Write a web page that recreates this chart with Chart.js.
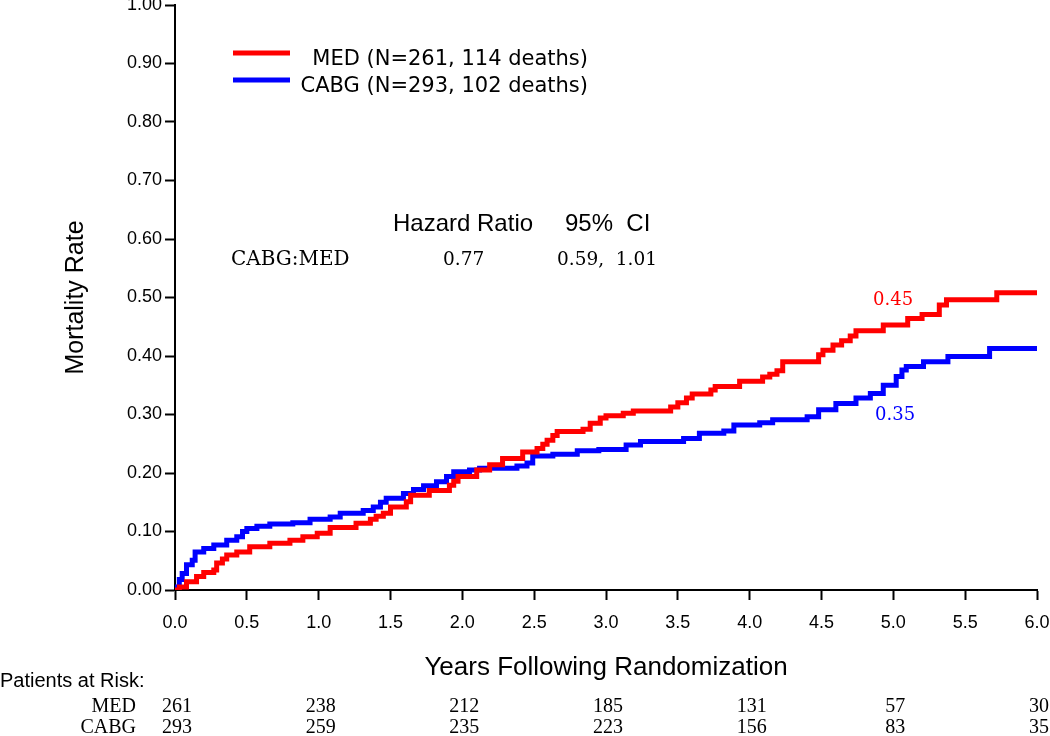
<!DOCTYPE html>
<html>
<head>
<meta charset="utf-8">
<script src="https://cdn.jsdelivr.net/npm/chart.js@4/dist/chart.umd.min.js"></script>
<style>
  body { margin: 0; background: #fff; }
  #wrap { width: 1050px; height: 736px; position: relative; }
</style>
</head>
<body>
<div id="wrap"><canvas id="kmChart"></canvas></div>
<script>
// Kaplan-Meier style mortality (years, cumulative rate)
var medYears = [0, 0.03, 0.08, 0.15, 0.2, 0.27, 0.29, 0.33, 0.36, 0.43, 0.52, 0.66, 0.8, 0.89, 0.99,
    1.08, 1.26, 1.36, 1.4, 1.45, 1.5, 1.61, 1.64, 1.77, 1.91, 1.94, 1.97, 2.1, 2.19, 2.28, 2.42,
    2.52, 2.56, 2.59, 2.63, 2.66, 2.84, 2.89, 2.96, 3.0, 3.12, 3.19, 3.45, 3.5, 3.56, 3.6, 3.73,
    3.76, 3.93, 4.09, 4.14, 4.19, 4.23, 4.48, 4.51, 4.58, 4.64, 4.7, 4.74, 4.93, 5.1, 5.2, 5.32,
    5.37, 5.72, 6.0];
var medRate = [0, 0.005, 0.014, 0.023, 0.03, 0.034, 0.046, 0.053, 0.06, 0.065, 0.074, 0.08, 0.085, 0.091, 0.097,
    0.107, 0.114, 0.121, 0.126, 0.131, 0.142, 0.151, 0.162, 0.17, 0.179, 0.186, 0.194, 0.205, 0.214, 0.225, 0.236,
    0.242, 0.249, 0.256, 0.264, 0.271, 0.275, 0.285, 0.294, 0.298, 0.302, 0.306, 0.313, 0.32, 0.328, 0.335, 0.342,
    0.348, 0.357, 0.364, 0.369, 0.375, 0.39, 0.402, 0.41, 0.419, 0.426, 0.434, 0.443, 0.453, 0.464, 0.471, 0.487,
    0.496, 0.508, 0.508];

var cabgYears = [0, 0.01, 0.03, 0.05, 0.08, 0.12, 0.14, 0.2, 0.27, 0.36, 0.43, 0.47, 0.5, 0.57, 0.66, 0.82,
    0.94, 1.08, 1.15, 1.31, 1.38, 1.43, 1.47, 1.59, 1.66, 1.73, 1.82, 1.89, 1.94, 2.05, 2.12, 2.38,
    2.45, 2.49, 2.63, 2.8, 2.95, 3.14, 3.24, 3.54, 3.65, 3.82, 3.89, 4.07, 4.16, 4.4, 4.48, 4.6,
    4.74, 4.84, 4.93, 5.02, 5.06, 5.09, 5.21, 5.38, 5.67, 6.0];
var cabgRate = [0, 0.005, 0.018, 0.028, 0.043, 0.051, 0.065, 0.071, 0.077, 0.085, 0.091, 0.1, 0.105, 0.109, 0.113, 0.115,
    0.121, 0.125, 0.131, 0.136, 0.142, 0.15, 0.157, 0.165, 0.172, 0.178, 0.185, 0.194, 0.202, 0.205, 0.208, 0.212,
    0.217, 0.229, 0.232, 0.238, 0.24, 0.248, 0.254, 0.259, 0.268, 0.272, 0.282, 0.286, 0.291, 0.296, 0.308, 0.319,
    0.328, 0.336, 0.35, 0.365, 0.376, 0.382, 0.39, 0.399, 0.413, 0.413];

var groupNames = ['MED', 'CABG'];
var legendLabels = ['MED (N=261, 114 deaths)', 'CABG (N=293, 102 deaths)'];
var endLabels = ['0.45', '0.35'];
var riskYears = [0, 1, 2, 3, 4, 5, 6];
var medRisk = [261, 238, 212, 185, 131, 57, 30];
var cabgRisk = [293, 259, 235, 223, 156, 83, 35];
var hazardRow = ['CABG:MED', '0.77', '0.59,  1.01'];

var toPoints = function(xs, ys) {
    var pts = [];
    for (var i = 0; i < xs.length; i++) {
        pts.push({x: xs[i], y: ys[i]});
    }
    return pts;
};

var RED = '#ff0000';
var BLUE = '#0000ff';

// legend, hazard ratio box, end labels and risk table
var extras = {
    id: 'extras',
    afterDraw: function(chart) {
        var ctx = chart.ctx;
        var xs = chart.scales.x;
        ctx.save();
        ctx.textBaseline = 'alphabetic';

        // legend
        ctx.lineWidth = 5;
        ctx.strokeStyle = RED;
        ctx.beginPath(); ctx.moveTo(233, 53); ctx.lineTo(290, 53); ctx.stroke();
        ctx.strokeStyle = BLUE;
        ctx.beginPath(); ctx.moveTo(233, 80); ctx.lineTo(290, 80); ctx.stroke();
        ctx.fillStyle = '#000';
        ctx.font = '21px "DejaVu Sans"';
        ctx.textAlign = 'right';
        ctx.fillText(legendLabels[0], 588, 65);
        ctx.fillText(legendLabels[1], 588, 92);

        // hazard ratio
        ctx.textAlign = 'left';
        ctx.font = '24px "Liberation Sans"';
        ctx.fillText('Hazard Ratio', 393, 231);
        ctx.fillText('95%  CI', 565, 231);
        ctx.font = '20px "DejaVu Serif"';
        ctx.fillText(hazardRow[0], 231, 265);
        ctx.font = '18.5px "DejaVu Serif"';
        ctx.fillText(hazardRow[1], 443, 265);
        ctx.fillText(hazardRow[2], 557, 265);

        // end labels
        ctx.font = '18px "DejaVu Serif"';
        ctx.fillStyle = RED;
        ctx.fillText(endLabels[0], 873, 305);
        ctx.fillStyle = BLUE;
        ctx.fillText(endLabels[1], 875, 420);

        // patients at risk
        ctx.fillStyle = '#000';
        ctx.font = '20px "Liberation Sans"';
        ctx.fillText('Patients at Risk:', 0, 687);
        ctx.font = '20px "Liberation Serif"';
        ctx.textAlign = 'right';
        ctx.fillText(groupNames[0], 136, 712);
        ctx.fillText(groupNames[1], 136, 733);
        ctx.textAlign = 'center';
        for (var i = 0; i < riskYears.length; i++) {
            var px = xs.getPixelForValue(riskYears[i]) + 2;
            ctx.fillText(String(medRisk[i]), px, 712);
            ctx.fillText(String(cabgRisk[i]), px, 733);
        }
        ctx.restore();
    }
};

Chart.defaults.font.family = '"Liberation Sans", Arial, sans-serif';
Chart.defaults.color = '#000';

var ctx = document.getElementById('kmChart');
new Chart(ctx, {
    type: 'line',
    data: {
        datasets: [{
            label: groupNames[0],
            data: toPoints(medYears, medRate),
            borderColor: RED,
            borderWidth: 5,
            stepped: 'before',
            pointRadius: 0,
            fill: false,
            borderJoinStyle: 'miter'
        }, {
            label: groupNames[1],
            data: toPoints(cabgYears, cabgRate),
            borderColor: BLUE,
            borderWidth: 5,
            stepped: 'before',
            pointRadius: 0,
            fill: false,
            borderJoinStyle: 'miter'
        }]
    },
    options: {
        responsive: true,
        maintainAspectRatio: false,
        animation: false,
        layout: { padding: 0 },
        plugins: {
            legend: { display: false },
            tooltip: { enabled: false }
        },
        scales: {
            x: {
                type: 'linear',
                min: 0,
                max: 6,
                afterFit: function(scale) {
                    scale.height = 146;
                    scale.paddingLeft = 0;
                    scale.paddingRight = 13;
                },
                border: { display: true, color: '#000', width: 2 },
                grid: { drawOnChartArea: false, drawTicks: true, tickLength: 10, tickColor: '#000', tickWidth: 2 },
                ticks: {
                    stepSize: 0.5,
                    padding: 12,
                    maxRotation: 0,
                    font: { size: 18 },
                    callback: function(v) { return v.toFixed(1); }
                },
                title: {
                    display: true,
                    text: 'Years Following Randomization',
                    font: { size: 26 },
                    padding: { top: 0, bottom: 53 }
                }
            },
            y: {
                min: 0,
                max: 1,
                afterFit: function(scale) {
                    scale.width = 175;
                    scale.paddingTop = 5;
                    scale.paddingBottom = 0;
                },
                border: { display: true, color: '#000', width: 2 },
                grid: { drawOnChartArea: false, drawTicks: true, tickLength: 10, tickColor: '#000', tickWidth: 2 },
                ticks: {
                    stepSize: 0.1,
                    padding: 3,
                    font: { size: 18 },
                    callback: function(v) { return v.toFixed(2); }
                },
                title: {
                    display: true,
                    text: 'Mortality Rate',
                    font: { size: 25 },
                    padding: { top: 61, bottom: 0 }
                }
            }
        }
    },
    plugins: [extras]
});
</script>
</body>
</html>
